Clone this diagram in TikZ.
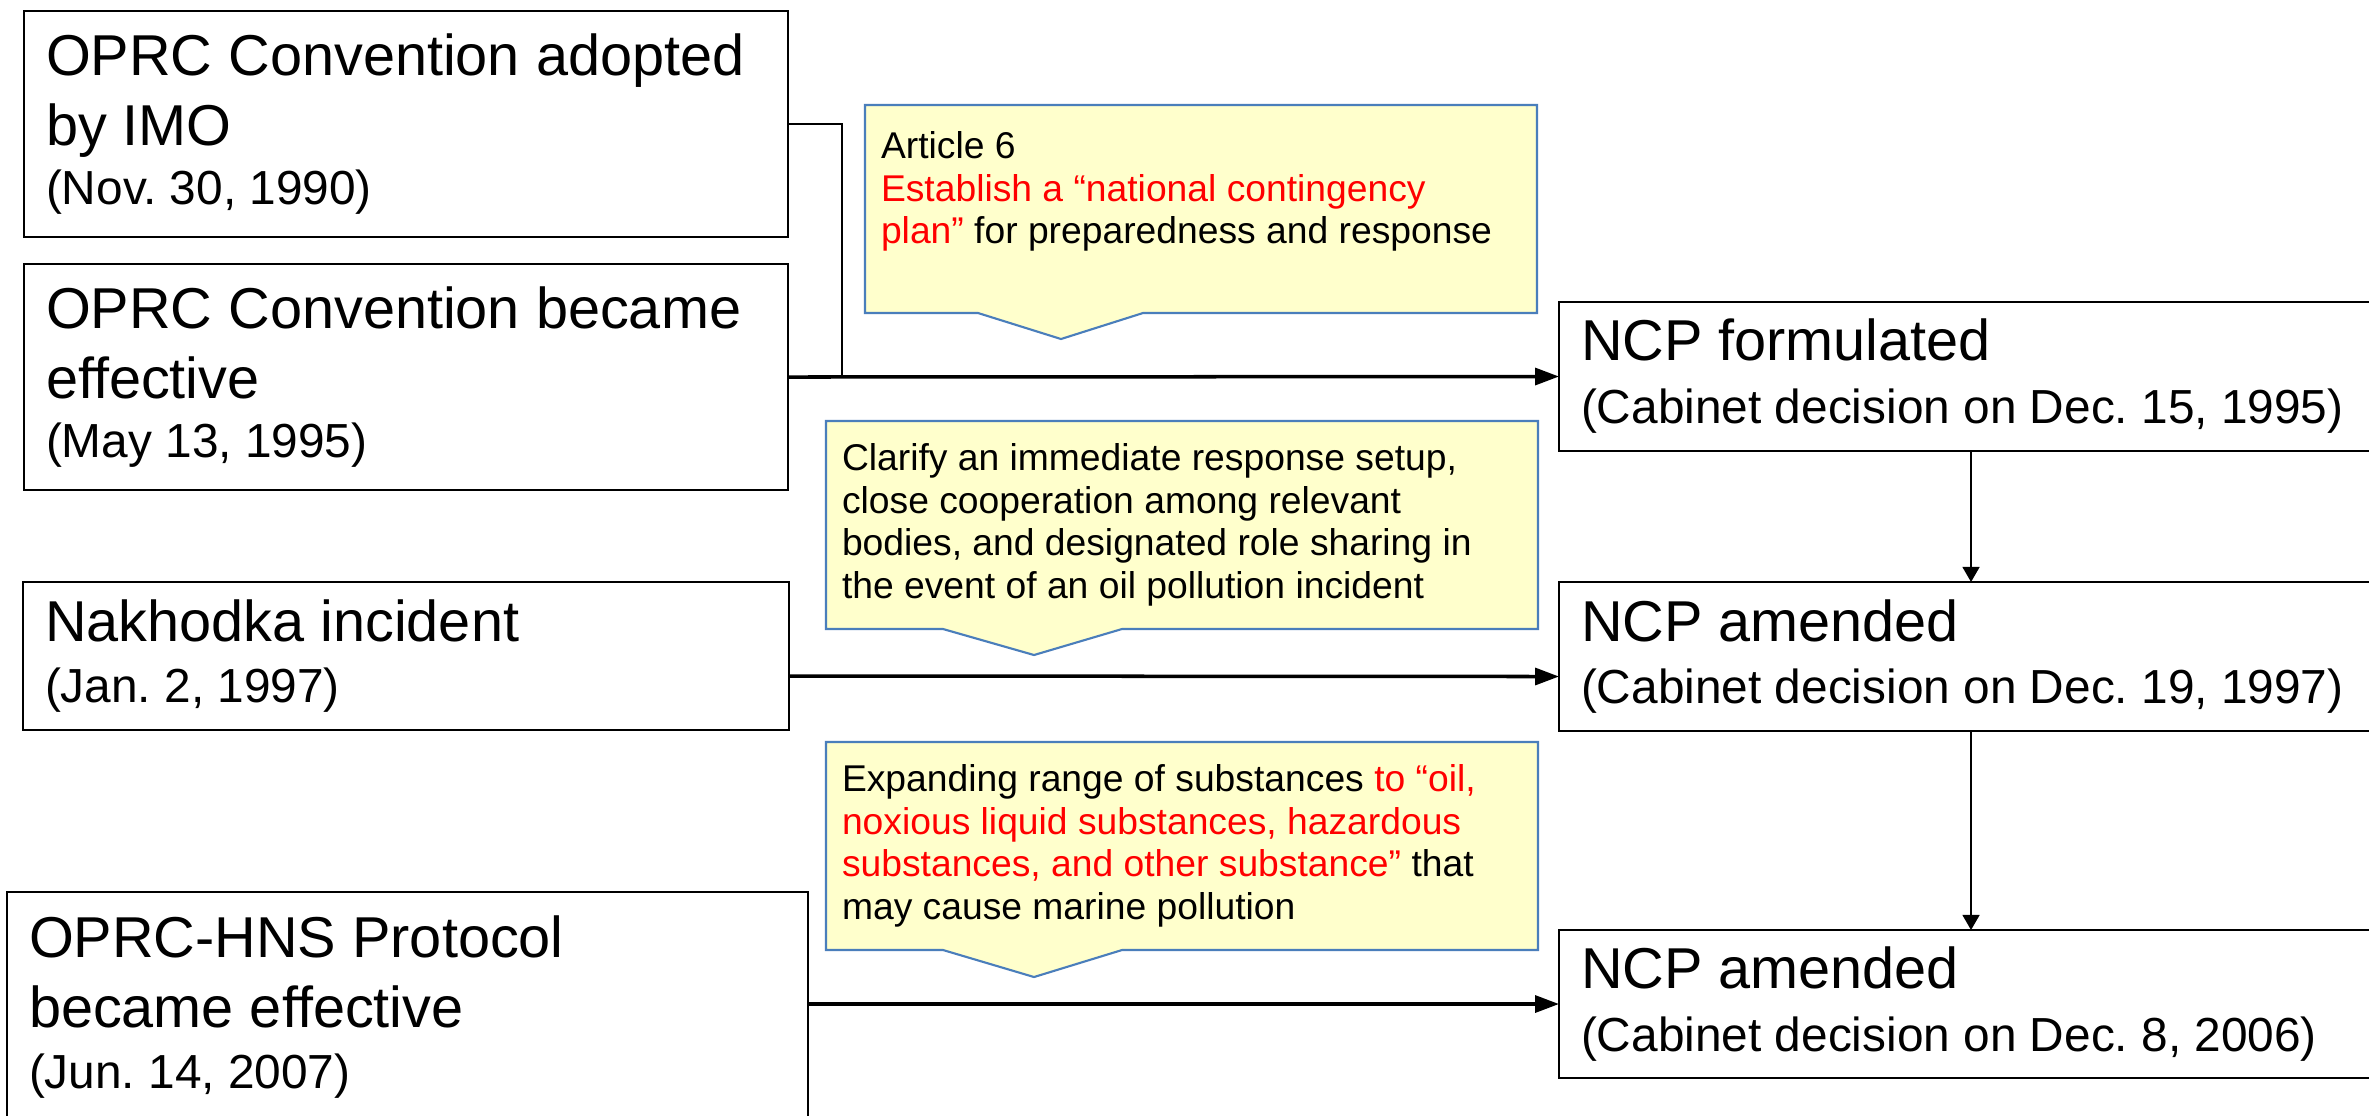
\documentclass[tikz,border=0pt]{standalone}
\usepackage{fontspec}
\setmainfont{Liberation Sans}
\usetikzlibrary{calc,arrows.meta,backgrounds}
\definecolor{notefill}{HTML}{FFFFCC}
\definecolor{noteedge}{HTML}{4A7EBB}
\def\headfont{\fontsize{16.4}{19.9}\selectfont}
\def\datefont{\fontsize{13.6}{19.9}\selectfont}
\def\notefont{\fontsize{10.6}{12.1}\selectfont}
\frenchspacing

\begin{document}
\begin{tikzpicture}[x=0.1mm, y=-0.1mm,
		evbox/.style={draw, line width=0.6pt, anchor=north west, outer sep=0pt, inner xsep=2.2mm, inner ysep=0pt, align=flush left, font=\headfont},
		note/.style={anchor=north west, outer sep=0pt, inner xsep=1.6mm, inner ysep=0pt, align=flush left, font=\notefont},
		notebg/.style={draw=noteedge, fill=notefill, line width=0.6pt},
		feed/.style={line width=1pt, -{Triangle[length=6.8pt, width=4.8pt]}},
		flow/.style={line width=0.6pt, -{Triangle[length=4.3pt, width=4.8pt]}},
		tie/.style={line width=0.7pt}]
			%%%%% START %%%%%
			
			\useasboundingbox (0,0) rectangle (2369,1115);
			\clip (0,0) rectangle (2369,1115);
			
			% events on the left
			\node[evbox, text width=72mm, minimum width=76.4mm, minimum height=22.6mm] (adopt) at (24,11) {OPRC Convention adopted\\by IMO\\[-3pt]{\datefont(Nov. 30, 1990)}};
			\node[evbox, text width=72mm, minimum width=76.4mm, minimum height=22.6mm] (effect) at (24,264) {OPRC Convention became\\effective\\[-3pt]{\datefont(May 13, 1995)}};
			\node[evbox, text width=72.2mm, minimum width=76.6mm, minimum height=14.8mm] (nakh) at (23,582) {Nakhodka incident\\[-2.5pt]{\datefont(Jan. 2, 1997)}};
			\node[evbox, text width=75.7mm, minimum width=80.1mm, minimum height=23mm] (hns) at (7,892) {OPRC-HNS Protocol\\became effective\\[-2.5pt]{\datefont(Jun. 14, 2007)}};
			
			% plan on the right
			\node[evbox, text width=78mm, minimum width=82.4mm, minimum height=14.9mm] (ncp1) at (1559,302) {NCP formulated\\[-2pt]{\datefont(Cabinet decision on Dec. 15, 1995)}};
			\node[evbox, text width=78mm, minimum width=82.4mm, minimum height=14.9mm] (ncp2) at (1559,582) {NCP amended\\[-2pt]{\datefont(Cabinet decision on Dec. 19, 1997)}};
			\node[evbox, text width=78mm, minimum width=82.4mm, minimum height=14.8mm] (ncp3) at (1559,930) {NCP amended\\[-2pt]{\datefont(Cabinet decision on Dec. 8, 2006)}};
			
			% notes
			\node[note, text width=64mm, minimum width=67.2mm, minimum height=20.8mm] (art6) at (865,105) {Article 6\\\textcolor{red}{Establish a “national contingency}\\\textcolor{red}{plan”} for preparedness and response\\\mbox{}};
			\node[note, text width=68mm, minimum width=71.2mm, minimum height=20.8mm] (setup) at (826,421) {Clarify an immediate response setup,\\close cooperation among relevant\\bodies, and designated role sharing in\\the event of an oil pollution incident};
			\node[note, text width=68mm, minimum width=71.2mm, minimum height=20.8mm] (range) at (826,742) {Expanding range of substances \textcolor{red}{to “oil,}\\\textcolor{red}{noxious liquid substances, hazardous}\\\textcolor{red}{substances, and other substance”} that\\may cause marine pollution};
			
			\begin{scope}[on background layer]
				\fill[white] (0,0) rectangle (2369,1115);
				\draw[notebg] (art6.north west) -- (art6.north east) -- (art6.south east) -- ($(art6.south west)+(278,0)$) -- ($(art6.south west)+(196,26)$) -- ($(art6.south west)+(113,0)$) -- (art6.south west) -- cycle;
				\draw[notebg] (setup.north west) -- (setup.north east) -- (setup.south east) -- ($(setup.south west)+(296,0)$) -- ($(setup.south west)+(208,26)$) -- ($(setup.south west)+(117,0)$) -- (setup.south west) -- cycle;
				\draw[notebg] (range.north west) -- (range.north east) -- (range.south east) -- ($(range.south west)+(296,0)$) -- ($(range.south west)+(208,27)$) -- ($(range.south west)+(117,0)$) -- (range.south west) -- cycle;
			\end{scope}
			
			% connectors
			\coordinate (joint) at ($(effect.east)+(54,0)$);
			\draw[tie] (adopt.east) -| (joint);
			\draw[feed] (effect.east) -- (ncp1.west);
			\draw[feed] ($(nakh.east)+(0,20)$) -- ($(ncp2.west)+(0,20)$);
			\draw[feed] (hns.east |- ncp3.west) -- (ncp3.west);
			\draw[flow] (ncp1.south) -- (ncp2.north);
			\draw[flow] (ncp2.south) -- (ncp3.north);
			
			%%%%% END %%%%%
\end{tikzpicture}
\end{document}
